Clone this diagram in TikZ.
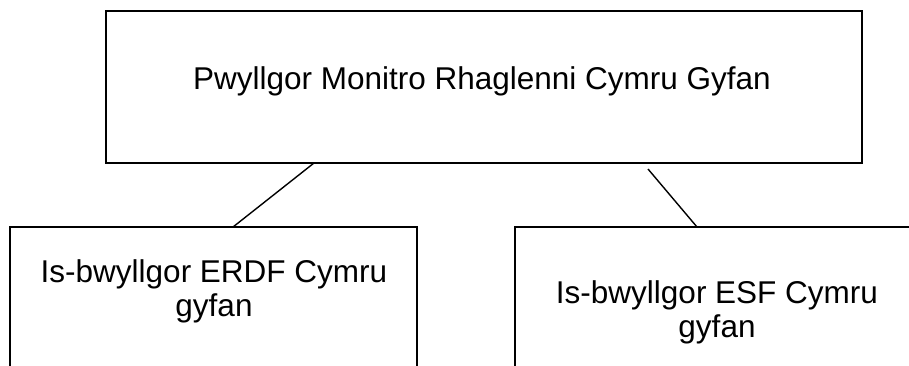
\documentclass[tikz,border=0pt]{standalone}
\usepackage{fontspec}
\setmainfont{Liberation Sans}
\begin{document}
\begin{tikzpicture}[x=1pt,y=-1pt,
  box/.style={draw=black, line width=1.6pt, rectangle, inner sep=0pt, fill=white},
  lbl/.style={font=\fontsize{31.5}{34}\selectfont, inner sep=0pt, anchor=base},
  link/.style={draw=black, line width=1.4pt}]
\useasboundingbox (0,0) rectangle (909,365);
\fill[white] (0,0) rectangle (909,365);
\clip (0,0) rectangle (909,365);
% boxes
\node[box, minimum width=756pt, minimum height=152pt] (top) at (484,87) {};
\node[box, minimum width=407pt, minimum height=200pt] (erdf) at (213.5,327) {};
\node[box, minimum width=404pt, minimum height=200pt] (esf) at (717,327) {};
% texts
\node[lbl] (ttop) at (482,89) {Pwyllgor Monitro Rhaglenni Cymru Gyfan};
\node[lbl] (terdfa) at (214,282) {Is-bwyllgor ERDF Cymru};
\node[lbl] (terdfb) at (214,316) {gyfan};
\node[lbl] (tesfa) at (717,303) {Is-bwyllgor ESF Cymru};
\node[lbl] (tesfb) at (717,337) {gyfan};
% connectors
\coordinate (la) at (314,163);
\coordinate (lb) at (233,227);
\coordinate (ra) at (648,169);
\coordinate (rb) at (697,227);
\draw[link] (la) -- (lb);
\draw[link] (ra) -- (rb);
\end{tikzpicture}
\end{document}
